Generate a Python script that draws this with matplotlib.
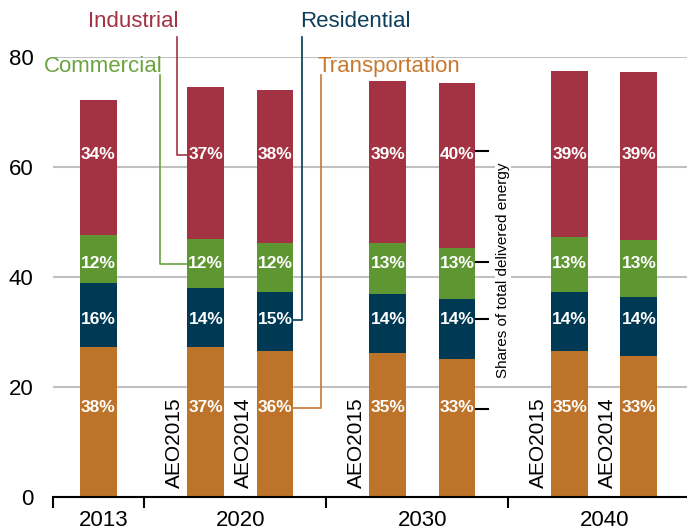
import numpy as np
import matplotlib
matplotlib.use('Agg')
import matplotlib.pyplot as plt

plt.rcParams['font.family'] = ['Liberation Sans', 'DejaVu Sans']

# data (quadrillion Btu)
years = ['2013', '2020', '2030', '2040']
bar_year = [0, 1, 1, 2, 2, 3, 3]
bar_case = ['', 'AEO2015', 'AEO2014', 'AEO2015', '', 'AEO2015', 'AEO2014']
transportation = [27.3, 27.3, 26.6, 26.2, 25.1, 26.5, 25.6]
residential = [11.7, 10.7, 10.7, 10.8, 10.9, 10.8, 10.8]
commercial = [8.6, 8.9, 8.9, 9.2, 9.3, 10.0, 10.3]
industrial = [24.6, 27.6, 27.8, 29.4, 30.0, 30.2, 30.6]
share_trans = ['38%', '37%', '36%', '35%', '33%', '35%', '33%']
share_res = ['16%', '14%', '15%', '14%', '14%', '14%', '14%']
share_com = ['12%', '12%', '12%', '13%', '13%', '13%', '13%']
share_ind = ['34%', '37%', '38%', '39%', '40%', '39%', '39%']

c_ind = '#a33343'
c_com = '#5e9732'
c_res = '#003953'
c_trans = '#bd732a'

# layout
year_x = [0.25, 1.0, 2.0, 3.0]
w = 0.203
xs = []
for i, g in enumerate(bar_year):
    n = bar_year.count(g)
    if n == 1:
        xs.append(year_x[g])
    else:
        first = bar_year.index(g)
        xs.append(year_x[g] + (-0.16 if i == first else 0.22))
xs = np.array(xs)

fig = plt.figure(figsize=(6.87, 5.31), dpi=100)
ax = fig.add_axes([53/687, 34/531, 634/687, 440/531])

stack = [(transportation, c_trans, share_trans, 16.2),
         (residential, c_res, share_res, 32.2),
         (commercial, c_com, share_com, 42.4),
         (industrial, c_ind, share_ind, 62.2)]
bottom = np.zeros(len(xs))
for vals, col, labs, ylab in stack:
    ax.bar(xs, vals, w, bottom=bottom, color=col, zorder=3)
    for x, t in zip(xs, labs):
        ax.text(x, ylab, t, color='white', fontsize=12.5, fontweight='bold',
                ha='center', va='center', zorder=4)
    bottom += np.array(vals)

for x, t in zip(xs, bar_case):
    if t:
        ax.text(x - 0.173, 1.6, t, rotation=90, ha='center', va='bottom',
                fontsize=15, color='black')

ax.set_xlim(0, 3.484)
ax.set_ylim(0, 80)
ax.set_yticks([0, 20, 40, 60, 80])
ax.tick_params(axis='y', length=0, labelsize=16, pad=14)
ax.set_xticks([x + 0.03 for x in year_x])
ax.set_xticklabels(years)
ax.set_xticks([0, 0.5, 1.5, 2.5], minor=True)
ax.tick_params(axis='x', which='major', length=0, labelsize=16, pad=9)
ax.tick_params(axis='x', which='minor', length=8, width=1.5, direction='out')
ax.grid(axis='y', color='#c0c0c0', linewidth=1.5, zorder=0)
for s in ['left', 'right', 'top']:
    ax.spines[s].set_visible(False)
ax.spines['bottom'].set_linewidth(1.5)
ax.spines['bottom'].set_zorder(5)

# sector callouts pointing to the 2020 bars
edge_l = xs[1] - w / 2
edge_r = xs[2] + w / 2
ax.plot([0.681, 0.681, edge_l], [83.6, 62.2, 62.2], color=c_ind, lw=1.2, clip_on=False)
ax.plot([0.588, 0.588, edge_l], [76.7, 42.4, 42.4], color='#6ba33f', lw=1.2, clip_on=False)
ax.plot([1.368, 1.368, edge_r], [83.6, 32.2, 32.2], color=c_res, lw=1.2, clip_on=False)
ax.plot([1.473, 1.473, edge_r], [76.7, 16.1, 16.1], color='#c8782e', lw=1.2, clip_on=False)
ax.text(0.688, 86.4, 'Industrial', color=c_ind, fontsize=16, ha='right', va='center', clip_on=False)
ax.text(0.6, 78.2, 'Commercial', color='#6ba33f', fontsize=16, ha='right', va='center', clip_on=False)
ax.text(1.36, 86.4, 'Residential', color='#0d3f5b', fontsize=16, ha='left', va='center', clip_on=False)
ax.text(1.456, 78.2, 'Transportation', color='#c8782e', fontsize=16, ha='left', va='center', clip_on=False)

# shares bracket next to the 2030 AEO2014 bar
for yb in [62.9, 42.7, 32.4, 16.0]:
    ax.plot([xs[4] + w / 2 + 0.005, xs[4] + w / 2 + 0.07], [yb, yb], color='black', lw=1.5, zorder=4)
ax.text(2.473, 41.3, 'Shares of total delivered energy', rotation=90, ha='center', va='center',
        fontsize=11, zorder=4, bbox=dict(facecolor='white', edgecolor='none', pad=1))

fig.savefig('out.png', dpi=100)
